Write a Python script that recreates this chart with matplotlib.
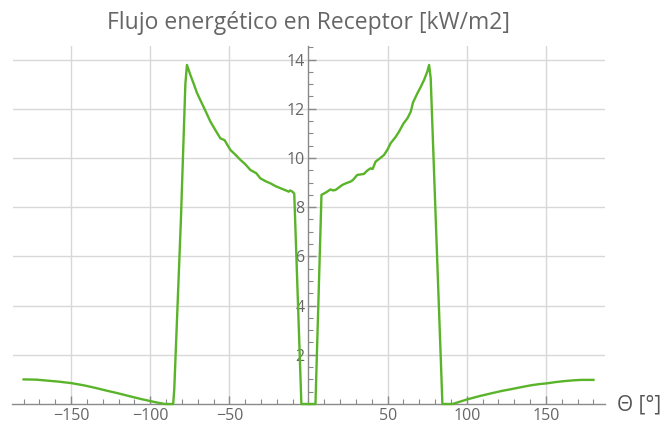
import matplotlib
matplotlib.use("Agg")
import matplotlib.pyplot as plt
from matplotlib.ticker import MultipleLocator, FixedLocator

plt.rcParams['font.family'] = ['Open Sans', 'DejaVu Sans']

# --- data ---
theta = [-180, -172, -165, -158, -150, -142, -135, -128, -120, -112, -105, -100, -95,
         -90.5, -85.5, -84.8, -80.6, -77.8, -76.8,
         -74.5, -72.6, -70.5, -68.4, -65, -62.0, -59, -55.7, -53, -49.4, -46, -43.0,
         -40, -36.7, -33, -30.4, -27, -24.1, -21, -17.7, -15, -12.5, -11.5, -10, -9.0,
         -4.5, 4.4, 8.2,
         10.8, 13.9, 15.5, 17.1, 21.3, 24, 26.6, 28, 30.8, 35.0, 37, 39.2, 40.5, 42.4,
         45, 47.7, 50, 51.9, 55, 57.2, 60, 62.5, 64.6, 66, 68.8, 71, 73.0, 75, 76.2,
         77.2, 80.4, 84.6, 91,
         100.4, 108, 115.2, 122, 127.8, 134, 140.5, 146, 150.6, 156, 161.6, 167, 172.2, 180]
flux = [1.00, 0.99, 0.95, 0.91, 0.85, 0.76, 0.66, 0.55, 0.43, 0.30, 0.19, 0.12, 0.05,
        0.0, 0.0, 0.6, 7.5, 13.0, 13.78,
        13.35, 13.03, 12.65, 12.36, 11.9, 11.48, 11.15, 10.80, 10.72, 10.33, 10.12, 9.92,
        9.75, 9.51, 9.38, 9.17, 9.05, 8.97, 8.86, 8.77, 8.70, 8.63, 8.68, 8.62, 8.55,
        0.0, 0.0, 8.5,
        8.59, 8.72, 8.68, 8.70, 8.90, 8.98, 9.04, 9.10, 9.31, 9.35, 9.48, 9.58, 9.55, 9.85,
        9.98, 10.12, 10.35, 10.60, 10.85, 11.07, 11.40, 11.61, 11.88, 12.25, 12.63, 12.90, 13.17, 13.5, 13.78,
        13.24, 7.48, 0.0, 0.0,
        0.19, 0.32, 0.43, 0.53, 0.60, 0.68, 0.76, 0.81, 0.84, 0.89, 0.93, 0.96, 0.98, 0.98]

x_ticks = [-150, -100, -50, 50, 100, 150]
y_ticks = [2, 4, 6, 8, 10, 12, 14]
title = "Flujo energético en Receptor [kW/m2]"
x_label = "Θ [°]"

fig = plt.figure(figsize=(6.64, 4.26), dpi=100)
ax = fig.add_axes([12.5 / 664, 22 / 426, 592 / 664, 358 / 426])

ax.plot(theta, flux, color="#5ab42a", lw=1.7, clip_on=False, zorder=3)

ax.set_xlim(-187, 187)
ax.set_ylim(0, 14.55)

for s in ["top", "right"]:
    ax.spines[s].set_visible(False)
ax.spines["left"].set_position(("data", 0))
ax.spines["bottom"].set_position(("data", 0))
for s in ["left", "bottom"]:
    ax.spines[s].set_color("#8a8a8a")
    ax.spines[s].set_linewidth(1.0)

ax.xaxis.set_major_locator(FixedLocator(x_ticks))
ax.yaxis.set_major_locator(FixedLocator(y_ticks))
ax.xaxis.set_minor_locator(MultipleLocator(10))
ax.yaxis.set_minor_locator(MultipleLocator(0.5))
ax.set_xticklabels([f"{v}".replace("-", "−") for v in x_ticks])
ax.set_yticklabels([str(v) for v in y_ticks])

ax.tick_params(which="major", direction="in", length=6, width=1, color="#8a8a8a",
               labelsize=11.5, labelcolor="#666666", pad=3)
ax.tick_params(which="minor", direction="in", length=3.5, width=0.8, color="#8a8a8a")

ax.grid(True, which="major", color="#d8d8d8", lw=1.0)
ax.set_axisbelow(True)

ax.set_title(title, fontsize=16.5, color="#666666", pad=12)
fig.text(617 / 664, 1 - 405 / 426, x_label, fontsize=15, color="#555555",
         ha="left", va="center")

fig.savefig("out.png", dpi=100)
